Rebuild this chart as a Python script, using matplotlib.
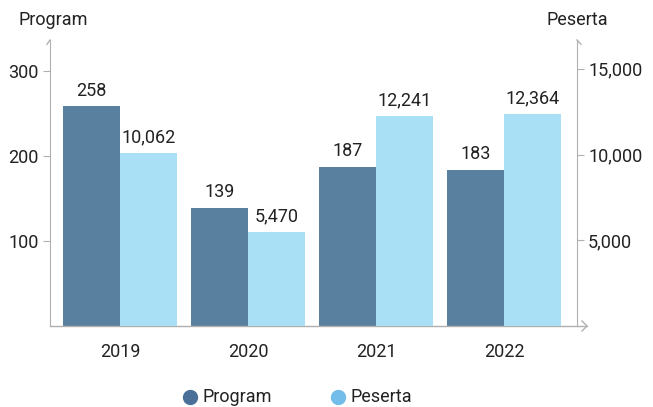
import numpy as np
import matplotlib
matplotlib.use("Agg")
import matplotlib.pyplot as plt
from matplotlib.lines import Line2D

plt.rcParams['font.family'] = ['Roboto', 'DejaVu Sans']

years = ['2019', '2020', '2021', '2022']
program = [258, 139, 187, 183]
peserta = [10062, 5470, 12241, 12364]

c_prog = '#5a80a0'
c_pes = '#a9e0f5'
c_prog_leg = '#4a7099'
c_pes_leg = '#72bdea'
c_axis = '#b0b0b0'
c_text = '#222222'
fs = 13

W, H = 653, 407
fig = plt.figure(figsize=(W / 100, H / 100), dpi=100)
ax = fig.add_axes([50 / W, (H - 326) / H, 527 / W, (326 - 40) / H])
ax2 = ax.twinx()

x = np.arange(len(years))
bw = 0.445
ax.bar(x - bw / 2, program, width=bw, color=c_prog, zorder=2)
ax2.bar(x + bw / 2, peserta, width=bw, color=c_pes, zorder=2)

for xi, v in zip(x, program):
    ax.text(xi - bw / 2, v + 8, f'{v:,}', ha='center', va='bottom', fontsize=fs, color=c_text)
for xi, v in zip(x, peserta):
    ax2.text(xi + bw / 2, v + 400, f'{v:,}', ha='center', va='bottom', fontsize=fs, color=c_text)

ax.set_xlim(-0.547, 3.570)
ax.set_ylim(0, 336)
ax2.set_ylim(0, 16680)

ax.set_xticks(x)
ax.set_xticklabels(years, fontsize=fs, color=c_text)
ax.tick_params(axis='x', length=0, pad=12)
ax.set_yticks([100, 200, 300])
ax.set_yticklabels(['100', '200', '300'], fontsize=fs, color=c_text)
ax.tick_params(axis='y', length=5, color=c_axis, pad=3)
ax2.set_yticks([5000, 10000, 15000])
ax2.set_yticklabels(['5,000', '10,000', '15,000'], fontsize=fs, color=c_text)
ax2.tick_params(axis='y', length=5, color=c_axis, pad=3)

for a in (ax, ax2):
    a.spines['top'].set_visible(False)
    a.spines['left'].set_color(c_axis)
    a.spines['right'].set_color(c_axis)
    a.spines['bottom'].set_visible(False)
ax2.spines['left'].set_visible(False)
ax.spines['right'].set_visible(False)

# baseline extending past the right axis with an arrowhead
tr = ax.transAxes
ax.plot([0, 537 / 527], [0, 0], color=c_axis, lw=1, transform=tr, clip_on=False)
ax.plot([532 / 527, 537 / 527, 532 / 527], [5 / 286, 0, -5 / 286], color=c_axis, lw=1,
        transform=tr, clip_on=False)
# half arrowheads on top of the vertical axes
ax.plot([-3 / 527, 0], [0.985, 1.0], color=c_axis, lw=1, transform=tr, clip_on=False)
ax.plot([1 + 4 / 527, 1], [0.985, 1.0], color=c_axis, lw=1, transform=tr, clip_on=False)

fig.text(18 / W, 1 - 20 / H, 'Program', fontsize=fs, color=c_text, ha='left', va='center')
fig.text(546 / W, 1 - 20 / H, 'Peserta', fontsize=fs, color=c_text, ha='left', va='center')

# legend, placed by hand
leg_y = 1 - 397 / H
for mx, col, lab in [(190, c_prog_leg, 'Program'), (338, c_pes_leg, 'Peserta')]:
    fig.add_artist(Line2D([mx / W], [leg_y], marker='o', ls='', ms=10, color=col,
                          transform=fig.transFigure))
    fig.text((mx + 13) / W, leg_y, lab, fontsize=fs, color=c_text, ha='left', va='center')

fig.savefig('out.png', dpi=100)
